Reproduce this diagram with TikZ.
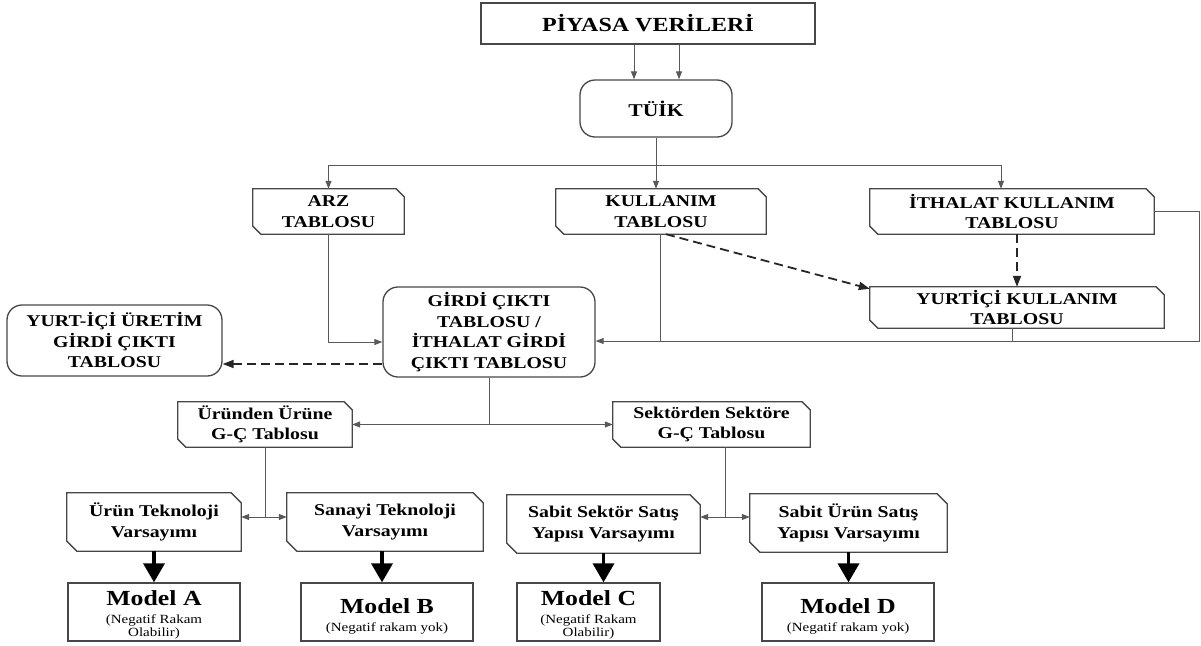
\documentclass[tikz,border=0pt]{standalone}
\usepackage{fontspec}
\setmainfont[FakeStretch=1.2]{Liberation Serif}
\usetikzlibrary{arrows.meta,calc}
\newcommand\chbox[2][9pt]{\draw[boxline] (#2.north west) -- ([xshift=-#1]#2.north east) -- ([yshift=-#1]#2.north east) -- (#2.south east) -- ([xshift=#1]#2.south west) -- ([yshift=#1]#2.south west) -- cycle;}
\begin{document}
\begin{tikzpicture}[x=1pt,y=-1pt,
  boxline/.style={draw=black!72,line width=1.3pt},
  bx/.style={rectangle,inner sep=0pt,align=center,text=black,font=\bfseries\fontsize{16.5}{20.5}\selectfont},
  rbox/.style={bx,draw=black!72,line width=1.3pt,rounded corners=15pt},
  pbox/.style={bx,draw=black!72,line width=1.3pt},
  conn/.style={draw=black!65,line width=1pt},
  arr/.style={-{Triangle[length=8pt,width=6pt]}},
  darr/.style={-{Triangle[length=11pt,width=8pt]}},
  dashline/.style={draw=black!85,line width=1.8pt,dash pattern=on 9pt off 5pt},
  thick arrow/.style={draw=black,line width=3.5pt,-{Triangle[length=19pt,width=21pt]}},
  mtitle/.style={inner sep=0pt,font=\bfseries\fontsize{21.5}{23}\selectfont},
  msub/.style={inner sep=0pt,align=center,font=\fontsize{12.5}{13.5}\selectfont}
]
\useasboundingbox (0,0) rectangle (1201,645);

% top
\node[pbox,minimum width=334pt,minimum height=41pt,font=\bfseries\fontsize{20}{22}\selectfont] (piy) at (648,23.5) {PİYASA VERİLERİ};
\node[rbox,minimum width=152pt,minimum height=57pt,font=\bfseries\fontsize{18}{20}\selectfont] (tuik) at (656,108.5) {TÜİK};

% tables
\node[bx,minimum width=151pt,minimum height=45pt] (arz) at (328.5,211.5) {ARZ\\TABLOSU};
\node[bx,minimum width=210pt,minimum height=45pt] (kul) at (661,211.5) {KULLANIM\\TABLOSU};
\node[bx,minimum width=284pt,minimum height=45pt] (ith) at (1012,211.5) {İTHALAT KULLANIM\\TABLOSU};
\node[bx,minimum width=294pt,minimum height=41pt] (yurtici) at (1017,307.5) {YURTİÇİ KULLANIM\\TABLOSU};
\chbox[8pt]{arz}
\chbox[8pt]{kul}
\chbox[8pt]{ith}
\chbox[8pt]{yurtici}

\node[rbox,minimum width=212pt,minimum height=90pt] (girdi) at (489,332) {GİRDİ ÇIKTI\\TABLOSU /\\İTHALAT GİRDİ\\ÇIKTI TABLOSU};
\node[rbox,minimum width=215pt,minimum height=71pt] (yurturetim) at (114.5,340.5) {YURT-İÇİ ÜRETİM\\GİRDİ ÇIKTI\\TABLOSU};

\node[bx,minimum width=174pt,minimum height=45pt] (urunden) at (265,424.5) {Üründen Ürüne\\G-Ç Tablosu};
\node[bx,minimum width=197pt,minimum height=45pt] (sektorden) at (711.5,424.5) {Sektörden Sektöre\\G-Ç Tablosu};
\chbox[8pt]{urunden}
\chbox[8pt]{sektorden}

\node[bx,minimum width=174pt,minimum height=58pt] (urtek) at (154,522) {Ürün Teknoloji\\Varsayımı};
\node[bx,minimum width=196pt,minimum height=58pt] (sanayi) at (385,522) {Sanayi Teknoloji\\Varsayımı};
\node[bx,minimum width=193pt,minimum height=58pt] (sabsek) at (603.5,524) {Sabit Sektör Satış\\Yapısı Varsayımı};
\node[bx,minimum width=197pt,minimum height=58pt] (sabur) at (848.5,523) {Sabit Ürün Satış\\Yapısı Varsayımı};
\chbox[10pt]{urtek}
\chbox[10pt]{sanayi}
\chbox[10pt]{sabsek}
\chbox[10pt]{sabur}

% models
\node[pbox,minimum width=172pt,minimum height=58pt] (ma) at (154,612) {};
\node[pbox,minimum width=172pt,minimum height=58pt] (mb) at (387,612) {};
\node[pbox,minimum width=143pt,minimum height=58pt] (mc) at (588.5,612) {};
\node[pbox,minimum width=172pt,minimum height=58pt] (md) at (848,612) {};
\node[mtitle] (mat) at (154,598) {Model A};
\node[msub] (mas) at (154,627) {(Negatif Rakam\\Olabilir)};
\node[mtitle] (mbt) at (387,606) {Model B};
\node[msub] (mbs) at (387,628) {(Negatif rakam yok)};
\node[mtitle] (mct) at (588.5,598) {Model C};
\node[msub] (mcs) at (588.5,627) {(Negatif Rakam\\Olabilir)};
\node[mtitle] (mdt) at (848,606) {Model D};
\node[msub] (mds) at (848,628) {(Negatif rakam yok)};

% connectors top
\draw[conn,arr] ([xshift=-14pt]piy.south) -- ([xshift=-22pt]tuik.north);
\draw[conn,arr] ([xshift=31pt]piy.south) -- ([xshift=23pt]tuik.north);
\coordinate (hub) at ($(tuik.south)+(0,28)$);
\draw[conn,arr] (tuik.south) -- (tuik.south |- kul.north);
\draw[conn,arr] (hub) -| (arz.north);
\draw[conn,arr] (hub) -| ([xshift=-11pt]ith.north);

% into girdi
\coordinate (gin) at ([yshift=-9pt]girdi.east);
\coordinate (gwin) at ([yshift=-10pt]girdi.west);
\draw[conn,arr] (arz.south) |- (gwin);
\draw[conn,arr] (ith.east) -- ++(45,0) |- (gin);
\draw[conn] ([xshift=-1pt]kul.south) -- ([xshift=-1pt]kul.south |- gin);
\coordinate (ys) at ([xshift=-5pt]yurtici.south);
\draw[conn] (ys) -- (ys |- gin);

% dashed
\draw[dashline,darr] ([xshift=5pt]kul.south) -- ([yshift=-2pt]yurtici.north west);
\draw[dashline,darr] (yurtici.north |- ith.south) -- (yurtici.north);
\coordinate (gdash) at ([yshift=-32pt]girdi.west);
\draw[dashline,darr] (gdash) -- (gdash -| yurturetim.east);

% girdi split
\coordinate (gs) at (girdi.south |- urunden.east);
\draw[conn] (girdi.south) -- (gs);
\draw[conn,arr] (gs) -- (urunden.east);
\draw[conn,arr] (gs) -- (sektorden.west);

% urunden split
\coordinate (us) at ($(urunden.south |- urtek.east)+(0,-5)$);
\draw[conn] (urunden.south) -- (us);
\draw[conn,arr] (us) -- (us -| urtek.east);
\draw[conn,arr] (us) -- (us -| sanayi.west);

% sektorden split
\coordinate (ss) at (725,517);
\draw[conn] (ss |- sektorden.south) -- (ss);
\draw[conn,arr] (ss) -- (ss -| sabsek.east);
\draw[conn,arr] (ss) -- (ss -| sabur.west);

% thick arrows
\draw[thick arrow] (urtek.south) -- (urtek.south |- ma.north);
\draw[thick arrow] ([xshift=-3pt]sanayi.south) -- ([xshift=-3pt]sanayi.south |- mb.north);
\draw[thick arrow] (sabsek.south) -- (sabsek.south |- mc.north);
\draw[thick arrow] (sabur.south) -- (sabur.south |- md.north);
\end{tikzpicture}
\end{document}
